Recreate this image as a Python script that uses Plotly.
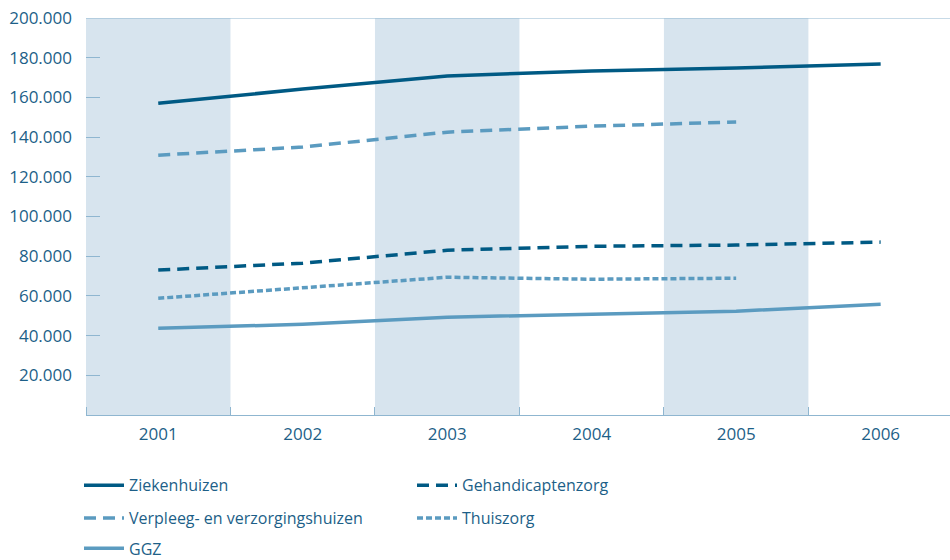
import plotly.graph_objects as go

years = ["2001", "2002", "2003", "2004", "2005", "2006"]
ziekenhuizen = [157000, 164200, 170800, 173300, 174800, 176800]
verpleeg = [130900, 135000, 142500, 145500, 147600]
gehandicapten = [73000, 76500, 83000, 85000, 85600, 87100]
thuiszorg = [58800, 63900, 69400, 68400, 68900]
ggz = [43700, 45700, 49300, 50800, 52300, 55800]
y_ticks = [20000, 40000, 60000, 80000, 100000, 120000, 140000, 160000, 180000, 200000]

DARK = "#005a84"
LIGHT = "#5b9bc0"
BAND = "#d7e4ee"
AXIS = "#8fb6d0"
TEXT = "#1d5f88"
FONT = "Open Sans"

xs = list(range(len(years)))

fig = go.Figure()
fig.add_trace(go.Scatter(x=xs, y=ziekenhuizen, name="Ziekenhuizen", mode="lines",
                         line=dict(color=DARK, width=3.5), legend="legend"))
fig.add_trace(go.Scatter(x=xs, y=gehandicapten, name="Gehandicaptenzorg", mode="lines",
                         line=dict(color=DARK, width=3.5, dash="12px,7px"), legend="legend"))
fig.add_trace(go.Scatter(x=xs[:len(verpleeg)], y=verpleeg, name="Verpleeg- en verzorgingshuizen", mode="lines",
                         line=dict(color=LIGHT, width=3.5, dash="12px,7px"), legend="legend2"))
fig.add_trace(go.Scatter(x=xs[:len(thuiszorg)], y=thuiszorg, name="Thuiszorg", mode="lines",
                         line=dict(color=LIGHT, width=3.5, dash="6px,3px"), legend="legend2"))
fig.add_trace(go.Scatter(x=xs, y=ggz, name="GGZ", mode="lines",
                         line=dict(color=LIGHT, width=3.5), legend="legend3"))

shapes = []
for i in range(0, len(years), 2):
    shapes.append(dict(type="rect", xref="x", yref="y", x0=i - 0.5, x1=i + 0.5, y0=0, y1=200000,
                       fillcolor=BAND, line=dict(width=0), layer="below"))
shapes.append(dict(type="line", xref="paper", yref="y", x0=0, x1=1, y0=200000, y1=200000,
                   line=dict(color=AXIS, width=1.2)))

leg_common = dict(orientation="h", xanchor="left", yanchor="middle", entrywidth=278,
                  itemwidth=40,
                  font=dict(family=FONT, size=16, color=TEXT), bgcolor="rgba(0,0,0,0)")

fig.update_layout(
    width=950, height=560,
    margin=dict(l=86, r=0, t=18, b=145, autoexpand=False),
    plot_bgcolor="white", paper_bgcolor="white",
    separators=",.",
    font=dict(family=FONT, size=17, color=TEXT),
    shapes=shapes,
    showlegend=True,
    legend=dict(x=-0.0081, y=-0.177, **leg_common),
    legend2=dict(x=-0.0081, y=-0.260, **leg_common),
    legend3=dict(x=-0.0081, y=-0.336, **leg_common),
    xaxis=dict(range=[-0.5, 5.48], tickvals=xs, ticktext=years, showgrid=False, zeroline=False,
               showline=True, linecolor=AXIS, linewidth=1.2, ticks="", automargin=False,
               ticklabelstandoff=3,
               tickfont=dict(family=FONT, size=17, color=TEXT),
               minor=dict(tickvals=[i - 0.5 for i in range(len(years))], ticks="inside",
                          ticklen=8, tickcolor=AXIS, tickwidth=1.2, showgrid=False)),
    yaxis=dict(range=[0, 200000], tickvals=y_ticks, tickformat=",d", showgrid=False,
               zeroline=False, showline=False, ticks="inside", ticklen=14, tickcolor=AXIS,
               tickwidth=1.2, ticklabelstandoff=13, automargin=False,
               ticklabeloverflow="allow",
               tickfont=dict(family=FONT, size=17, color=TEXT)),
)

fig.write_html("out.html", config={"displayModeBar": False},
               post_script="document.body.style.margin='0';document.body.style.overflow='hidden';")
